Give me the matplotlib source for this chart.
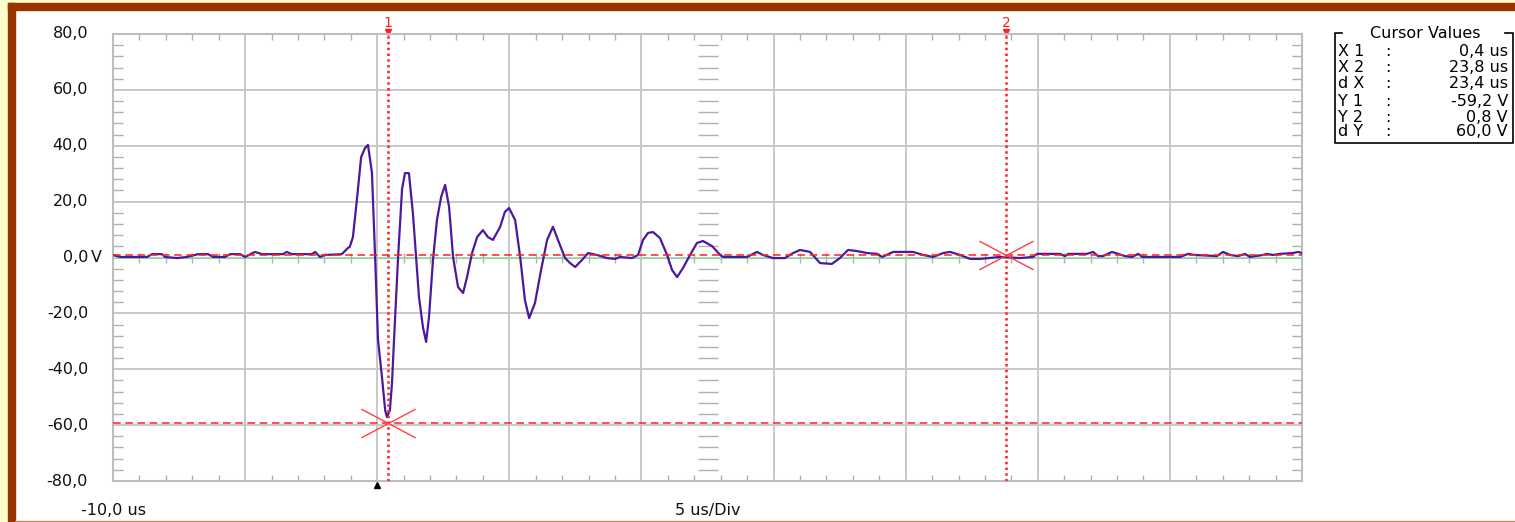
import numpy as np
import matplotlib.pyplot as plt
import matplotlib.transforms as mtransforms
from matplotlib.patches import Rectangle
from matplotlib.path import Path
from matplotlib.ticker import MultipleLocator

plt.rcParams['font.family'] = ['DejaVu Sans']

# trace: time in us, voltage in V
t_us = [-10.00, -9.73, -8.71, -8.52, -8.15, -8.03, -7.58, -7.20, -6.78, -6.40,
        -6.21, -5.76, -5.57, -5.19, -5.00, -4.63, -4.36, -3.57, -3.42, -3.23,
        -2.47, -2.35, -2.17, -1.98, -1.34, -1.11, -1.04, -0.92, -0.77, -0.61,
        -0.46, -0.35, -0.20, -0.08, 0.03, 0.18, 0.30, 0.37, 0.48, 0.56,
        0.63, 0.79, 0.94, 1.05, 1.20, 1.35, 1.47, 1.58, 1.73, 1.85,
        1.96, 2.11, 2.26, 2.42, 2.57, 2.72, 2.87, 3.06, 3.25, 3.40,
        3.59, 3.78, 4.00, 4.19, 4.38, 4.65, 4.83, 4.99, 5.22, 5.41,
        5.59, 5.75, 5.97, 6.20, 6.43, 6.65, 6.84, 7.11, 7.30, 7.49,
        7.75, 7.98, 8.32, 8.70, 9.00, 9.19, 9.64, 9.87, 10.06, 10.25,
        10.44, 10.70, 10.97, 11.16, 11.35, 11.57, 11.84, 12.10, 12.33, 12.67,
        12.98, 13.09, 14.00, 14.37, 14.60, 14.98, 15.43, 15.74, 16.00, 16.38,
        16.76, 17.21, 17.51, 17.82, 18.16, 18.54, 18.92, 19.11, 19.53, 20.28,
        20.66, 21.04, 21.42, 21.68, 22.06, 22.44, 22.82, 23.57, 24.33, 24.82,
        24.97, 25.84, 26.03, 26.15, 26.86, 27.09, 27.28, 27.47, 27.81, 28.04,
        28.30, 28.57, 28.80, 28.95, 30.39, 30.69, 30.95, 31.78, 32.01, 32.28,
        32.58, 32.84, 33.03, 33.52, 33.67, 33.90, 34.17, 34.66, 34.85, 35.00]
v_volt = [0.9, 0.2, 0.2, 1.2, 1.2, 0.2, -0.2, 0.2, 1.2, 1.2,
          0.2, 0.2, 1.2, 1.2, 0.2, 2.0, 1.2, 1.2, 2.0, 1.2,
          1.2, 2.0, 0.2, 0.9, 1.2, 3.4, 3.8, 7.3, 20.6, 35.9,
          39.2, 40.3, 30.4, 0.2, -29.5, -42.8, -54.6, -57.1, -54.6, -44.9,
          -30.6, 0.2, 24.5, 30.2, 30.2, 15.9, 0.2, -14.1, -24.9, -30.2,
          -21.3, -0.9, 13.4, 21.7, 26.0, 18.1, 0.2, -10.6, -12.7, -7.0,
          1.6, 7.3, 9.8, 7.3, 6.3, 10.9, 16.3, 17.7, 13.4, 0.2,
          -15.2, -21.7, -16.3, -4.5, 6.3, 11.0, 6.3, -0.2, -2.0, -3.4,
          -0.9, 1.6, 0.9, -0.2, -0.5, 0.2, -0.2, 0.9, 6.3, 8.8,
          9.1, 7.0, 0.9, -4.5, -7.0, -3.8, 0.9, 5.2, 5.9, 4.1,
          0.9, 0.2, 0.2, 2.0, 0.9, -0.2, -0.2, 1.6, 2.7, 2.0,
          -2.0, -2.3, -0.2, 2.7, 2.3, 1.6, 1.3, 0.2, 2.0, 2.0,
          0.9, 0.2, 1.6, 2.0, 0.9, -0.5, -0.5, 0.2, -0.2, 0.2,
          1.3, 1.3, 0.5, 1.3, 1.3, 2.0, 0.5, 0.5, 2.0, 1.3,
          0.5, 0.2, 1.3, 0.2, 0.2, 1.3, 0.9, 0.5, 2.0, 0.9,
          0.5, 1.3, 0.2, 0.9, 1.3, 0.9, 1.3, 1.6, 2.0, 1.6]

# cursors
cur_x = [0.4, 23.8]
cur_y = [-59.2, 0.8]

t_start, t_div, n_div = -10.0, 5.0, 9
y_ticks = [80, 60, 40, 20, 0, -20, -40, -60, -80]

W, H = 1515, 522
fig = plt.figure(figsize=(W / 100, H / 100), dpi=100, facecolor='white')

# window frame
yellow = '#FFFFCC'
brown = '#993300'
fig.add_artist(Rectangle((0, 0), 8 / W, 1, transform=fig.transFigure, color=yellow, zorder=0))
fig.add_artist(Rectangle((0, 1 - 3 / H), 1, 3 / H, transform=fig.transFigure, color=yellow, zorder=0))
fig.add_artist(Rectangle((8 / W, 0), 7 / W, 1 - 3 / H, transform=fig.transFigure, color=brown, zorder=0))
fig.add_artist(Rectangle((8 / W, 1 - 10 / H), 1, 7 / H, transform=fig.transFigure, color=brown, zorder=0))
fig.add_artist(Rectangle((15 / W, 0), 1, 1.5 / H, transform=fig.transFigure, color='#C8875A', zorder=0))

ax = fig.add_axes([113 / W, 1 - 481 / H, 1189 / W, 447 / H])
t_end = t_start + n_div * t_div
ax.set_xlim(t_start, t_end)
ax.set_ylim(-80, 80)
ax.set_xticks(np.arange(t_start, t_end + 0.01, t_div))
ax.set_yticks(y_ticks)
ax.xaxis.set_minor_locator(MultipleLocator(1))
ax.yaxis.set_minor_locator(MultipleLocator(4))
gridc = '#C8C8C8'
ax.grid(which='major', color=gridc, lw=1.4)
ax.tick_params(which='major', length=0, labelbottom=False, labelleft=False)
ax.tick_params(axis='x', which='minor', direction='in', top=True, bottom=True,
               length=4.5, width=1, color='#B0B0B0')
ax.tick_params(axis='y', which='minor', direction='in', left=True, right=True,
               length=7, width=1, color='#B0B0B0')
for s in ax.spines.values():
    s.set_color('#BDBDBD')
    s.set_linewidth(1.5)

# small ticks on the centre cross
minor_x = [x for x in ax.xaxis.get_minorticklocs() if x % t_div != 0]
minor_y = [y for y in ax.yaxis.get_minorticklocs() if y % 20 != 0]
t_mid = t_start + n_div * t_div / 2
ax.plot(minor_x, np.zeros(len(minor_x)), ls='none', marker='|', ms=7, mew=1, color='#B0B0B0')
ax.plot(np.full(len(minor_y), t_mid), minor_y, ls='none', marker='_', ms=14, mew=1, color='#B0B0B0')

# traces
ax.plot([t_start, t_end], [0, 0], color='#77DD99', lw=0.8, zorder=3)
ax.plot(t_us, v_volt, color='#4B1A9C', lw=1.6, zorder=4)

# cursors
red = '#FF2020'
for yc in cur_y:
    ax.axhline(yc, color=red, lw=1.1, dashes=(5, 3), zorder=5)
for xc in cur_x:
    ax.axvline(xc, color=red, lw=1.8, dashes=(1, 1.3), zorder=5)
xmark = Path([(-1, -0.53), (1, 0.53), (-1, 0.53), (1, -0.53)],
             [Path.MOVETO, Path.LINETO, Path.MOVETO, Path.LINETO])
ax.plot(cur_x, cur_y, ls='none', marker=xmark, ms=39, mew=1, mec='#FF4040', zorder=6)

top = mtransforms.blended_transform_factory(ax.transData, ax.transAxes)
for i, xc in enumerate(cur_x):
    ax.text(xc, 1.009, str(i + 1), transform=top, ha='center', va='bottom',
            color=red, fontsize=10)
    ax.plot([xc], [1.004], transform=top, marker='v', ms=4, color=red, clip_on=False)

# trigger position
ax.plot([0], [-0.008], transform=top, marker='^', ms=4, color='black', clip_on=False)

# axis labels
left = mtransforms.blended_transform_factory(ax.transAxes, ax.transData)
for y in y_ticks:
    ax.text(-0.021, y, f"{y:.1f}".replace('.', ','), transform=left,
            ha='right', va='center', fontsize=11.5, color='#101010')
    if y == 0:
        ax.text(-0.0185, y, 'V', transform=left, ha='left', va='center',
                fontsize=11.5, color='#101010')
ax.text(0, -0.065, f"{t_start:.1f}".replace('.', ',') + ' us', transform=ax.transAxes,
        ha='center', va='center', fontsize=11.5, color='#101010')
ax.text(0.5, -0.065, f"{t_div:.0f} us/Div", transform=ax.transAxes,
        ha='center', va='center', fontsize=11.5, color='#101010')

# cursor values box
bx = fig.add_axes([1335 / W, 1 - 143 / H, 178 / W, 110 / H])
bx.set_xlim(0, 178)
bx.set_ylim(110, 0)
bx.axis('off')
k = dict(color='black', lw=1.2, clip_on=False)
bx.plot([7, 0, 0, 178, 178, 170], [0, 0, 110, 110, 0, 0], **k)
bx.text(90, 0, 'Cursor Values', ha='center', va='center', fontsize=11.5)

def fmt(v, unit):
    return f"{v:.1f}".replace('.', ',') + ' ' + unit

names = ['X 1', 'X 2', 'd X', 'Y 1', 'Y 2', 'd Y']
vals = [fmt(cur_x[0], 'us'), fmt(cur_x[1], 'us'), fmt(cur_x[1] - cur_x[0], 'us'),
        fmt(cur_y[0], 'V'), fmt(cur_y[1], 'V'), fmt(cur_y[1] - cur_y[0], 'V')]
row_y = [19, 35, 51, 68, 84, 99]
for n, v, ry in zip(names, vals, row_y):
    bx.text(3, ry, n, ha='left', va='center', fontsize=11.5)
    bx.text(50, ry, ':', ha='left', va='center', fontsize=11.5)
    bx.text(173, ry, v, ha='right', va='center', fontsize=11.5)

fig.savefig('out.png', dpi=100, facecolor='white')
